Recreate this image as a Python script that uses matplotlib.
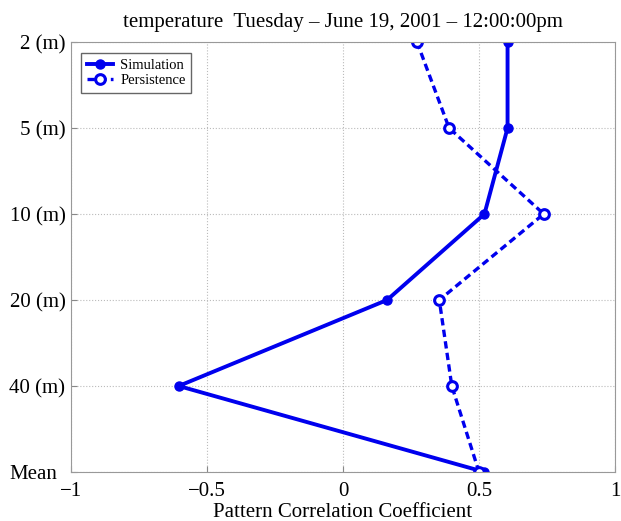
import matplotlib
matplotlib.use("Agg")
import matplotlib.pyplot as plt
from matplotlib.transforms import ScaledTranslation

levels = ["2 (m)", "5 (m)", "10 (m)", "20 (m)", "40 (m)", "Mean"]
simulation = [0.605, 0.605, 0.52, 0.162, -0.604, 0.52]
persistence = [0.272, 0.39, 0.738, 0.354, 0.40, 0.50]

plt.rcParams["font.family"] = ["Liberation Serif", "DejaVu Serif"]

fig = plt.figure(figsize=(6.21, 5.21), dpi=100)
ax = fig.add_axes([71 / 621, 49 / 521, 544 / 621, 430 / 521])

ypos = list(range(len(levels)))
ax.plot(simulation, ypos, "-o", color="#0000ee", linewidth=2.8, markersize=6.5,
        label="Simulation")
ax.plot(persistence, ypos, "--o", color="#0000ee", linewidth=2.4, markersize=7,
        markerfacecolor="white", markeredgewidth=2.2, dashes=(2.2, 1.3),
        label="Persistence")

ax.set_xlim(-1, 1)
ax.set_ylim(len(levels) - 1, 0)
ax.set_xticks([-1, -0.5, 0, 0.5, 1])
ax.set_xticklabels(["\u22121", "\u22120.5", "0", "0.5", "1"])
ax.set_yticks(ypos)
ax.set_yticklabels(levels)
ax.tick_params(direction="in", labelsize=15, length=4, color="#888888")
ax.tick_params(axis="x", pad=7)
ax.tick_params(axis="y", pad=4)
ax.grid(True, linestyle=":", color="#bbbbbb", linewidth=0.8)
for s in ax.spines.values():
    s.set_color("#999999")

# the "Mean" label sits a little further left in the original
mean_lbl = ax.get_yticklabels()[-1]
mean_lbl.set_transform(mean_lbl.get_transform() + ScaledTranslation(-8 / 100, 0, fig.dpi_scale_trans))

ax.set_xlabel("Pattern Correlation Coefficient", fontsize=15, labelpad=1.5)
ax.set_title("temperature  Tuesday \u2013 June 19, 2001 \u2013 12:00:00pm", fontsize=15, pad=11)

leg = ax.legend(loc="upper left", fontsize=10.5, handlelength=1.8, borderpad=0.4,
                labelspacing=0.15, handletextpad=0.5, fancybox=False, framealpha=1,
                borderaxespad=0, bbox_to_anchor=(0.018, 0.975))
leg.get_frame().set_edgecolor("#666666")

fig.savefig("out.png", dpi=100)
